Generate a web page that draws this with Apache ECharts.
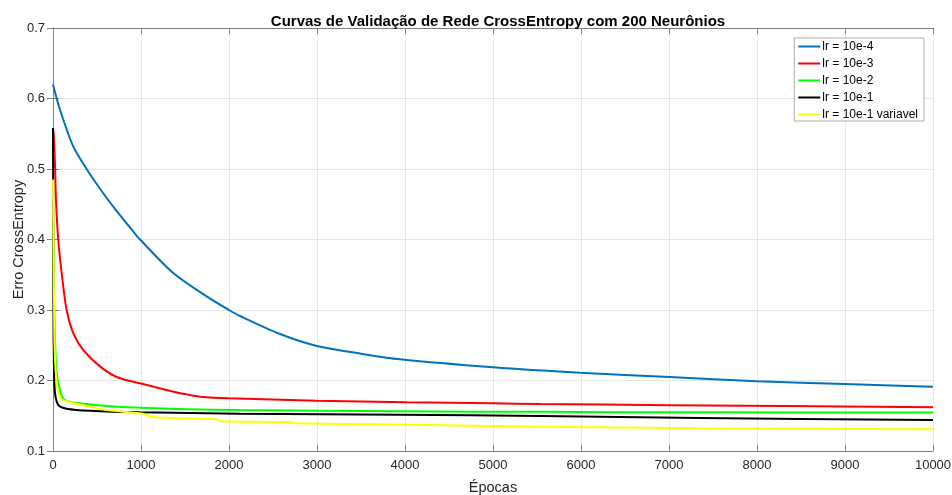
<!DOCTYPE html>
<html><head><meta charset="utf-8">
<script src="https://cdn.jsdelivr.net/npm/echarts@6/dist/echarts.min.js"></script>
<style>html,body{margin:0;padding:0;background:#fff}#c{width:952px;height:495px}</style>
</head><body><div id="c"></div>
<script>
const seriesNames = ['lr = 10e-4','lr = 10e-3','lr = 10e-2','lr = 10e-1','lr = 10e-1 variavel'];
const seriesColors = ['#0072BD','#FF0000','#00FF00','#000000','#FFFF00'];
const xTicks = [0,1000,2000,3000,4000,5000,6000,7000,8000,9000,10000];
const yTicks = [0.1,0.2,0.3,0.4,0.5,0.6,0.7];

const blueEpochs = [0,80,230,382,534,700,920,989,1370,1750,2000,2125,2580,3000,3500,3943,5000,5989,7011,8000,9000,10000];
const blueValues = [0.620,0.584,0.532,0.500,0.472,0.444,0.410,0.400,0.352,0.319,0.300,0.2915,0.266,0.249,0.238,0.230,0.2187,0.211,0.205,0.199,0.195,0.191];

const redEpochs = [0,10,23,34,60,99,155,231,345,534,724,989,1370,1557,1670,1992,2997,4019,5000,5534,7000,10000];
const redValues = [0.558,0.545,0.505,0.456,0.399,0.352,0.300,0.267,0.243,0.220,0.205,0.196,0.184,0.1794,0.177,0.1747,0.1714,0.169,0.1677,0.1667,0.165,0.162];

const greenEpochs = [0,10,25,42,80,136,420,990,2125,3943,5534,7352,10000];
const greenValues = [0.450,0.330,0.250,0.210,0.186,0.172,0.166,0.1614,0.158,0.1563,0.1555,0.1548,0.1545];

const blackEpochs = [0,5,11,23,61,155,420,990,2125,3943,5534,7352,10000];
const blackValues = [0.558,0.300,0.220,0.182,0.165,0.160,0.157,0.1548,0.153,0.1515,0.1496,0.1468,0.144];

const yellowEpochs = [0,5,11,23,61,117,420,610,990,1100,1180,1750,1860,1898,2540,2693,2730,3943,5534,7352,10000];
const yellowValues = [0.485,0.400,0.324,0.229,0.182,0.172,0.163,0.158,0.1535,0.1495,0.1475,0.1455,0.1450,0.1421,0.1412,0.1407,0.1393,0.1375,0.1345,0.1322,0.131];

const epochSets = [blueEpochs, redEpochs, greenEpochs, blackEpochs, yellowEpochs];
const valueSets = [blueValues, redValues, greenValues, blackValues, yellowValues];

const chart = echarts.init(document.getElementById('c'));
const axisGray = '#808080';
const textCol = '#262626';
const font = 'Liberation Sans, Arial, sans-serif';

const series = seriesNames.map((n,i)=>({
  name:n, type:'line', xAxisIndex:0, yAxisIndex:0,
  data: epochSets[i].map((e,k)=>[e, valueSets[i][k]]),
  showSymbol:false, smooth:0.3,
  lineStyle:{width:2,color:seriesColors[i]}, itemStyle:{color:seriesColors[i]},
  z: 2+i, animation:false
}));

chart.setOption({
  animation:false,
  backgroundColor:'#fff',
  title:{text:'Curvas de Validação de Rede CrossEntropy com 200 Neurônios', left:493, top:9, textAlign:'center',
    textStyle:{fontFamily:font,fontSize:15,fontWeight:'bold',color:'#000'}},
  grid:{left:53,right:19,top:28,bottom:44,containLabel:false,outerBoundsMode:'none'},
  legend:{
    data:seriesNames, orient:'vertical', right:28, top:38, padding:[2,6,0,4],
    backgroundColor:'#fff', borderColor:'#aaaaaa', borderWidth:1, itemGap:4,
    itemWidth:22, itemHeight:2, icon:'rect',
    textStyle:{fontFamily:font,fontSize:12,lineHeight:13,color:'#000',padding:[0,0,0,-3]}
  },
  xAxis:[{
    type:'value', min:0, max:10000, interval:1000, position:'bottom',
    name:'Épocas', nameLocation:'middle', nameGap:29, nameMoveOverlap:false,
    nameTextStyle:{fontFamily:font,fontSize:14.5,color:textCol},
    axisLine:{show:true,lineStyle:{color:axisGray,width:1}},
    axisTick:{show:true,inside:true,length:6,lineStyle:{color:axisGray}},
    axisLabel:{fontFamily:font,fontSize:13,color:textCol,margin:8,formatter:v=>String(v)},
    splitLine:{show:true,lineStyle:{color:'#e6e6e6',width:1}}
  },{
    type:'value', min:0, max:10000, interval:1000, position:'top',
    axisLine:{show:true,lineStyle:{color:axisGray,width:1}},
    axisTick:{show:true,inside:true,length:6,lineStyle:{color:axisGray}},
    axisLabel:{show:false}, splitLine:{show:false}
  }],
  yAxis:[{
    type:'value', min:0.1, max:0.7, interval:0.1, position:'left',
    name:'Erro CrossEntropy', nameLocation:'middle', nameGap:27, nameRotate:90, nameMoveOverlap:false,
    nameTextStyle:{fontFamily:font,fontSize:14.5,color:textCol},
    axisLine:{show:true,lineStyle:{color:axisGray,width:1}},
    axisTick:{show:true,inside:true,length:6,lineStyle:{color:axisGray}},
    axisLabel:{fontFamily:font,fontSize:13,color:textCol,margin:8,formatter:v=>(+v.toFixed(1)).toString()},
    splitLine:{show:true,lineStyle:{color:'#e6e6e6',width:1}}
  },{
    type:'value', min:0.1, max:0.7, interval:0.1, position:'right',
    axisLine:{show:true,lineStyle:{color:axisGray,width:1}},
    axisTick:{show:true,inside:true,length:6,lineStyle:{color:axisGray}},
    axisLabel:{show:false}, splitLine:{show:false}
  }],
  series: series
});
</script></body></html>
